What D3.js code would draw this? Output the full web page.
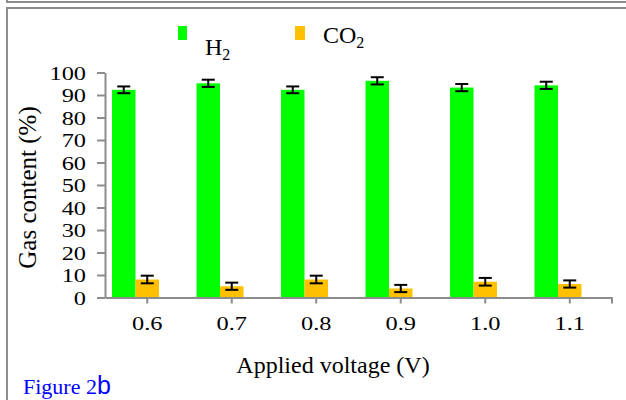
<!DOCTYPE html>
<html><head><meta charset="utf-8">
<script src="https://cdn.jsdelivr.net/npm/d3@7/dist/d3.min.js"></script>
<style>
html,body{margin:0;padding:0;background:#fff;}
svg{display:block;}
text{font-family:"Liberation Serif","Times New Roman",serif;fill:#000;}
</style></head>
<body><svg id="c" width="626" height="400"></svg>
<script>
const categories = ["0.6","0.7","0.8","0.9","1.0","1.1"];
const seriesNames = ["H2","CO2"];
const h2Values = [92.3, 95.2, 92.3, 96.3, 93.3, 94.3];
const co2Values = [8, 5, 8, 4, 7, 6];
const h2Errors = [1.5, 1.6, 1.5, 1.6, 1.6, 1.6];
const co2Errors = [1.7, 1.6, 1.7, 1.6, 1.7, 1.6];
const yTicks = [0,10,20,30,40,50,60,70,80,90,100];
const colors = {H2:"#00ff00", CO2:"#ffc000"};

(function(){
const svg = d3.select("#c");
const axisColor = "#8c8c8c";
const tickFont = 19.5, tickStretch = 1.25;

// frame
svg.append("line").attr("x1",7).attr("x2",626).attr("y1",2).attr("y2",2).attr("stroke",axisColor).attr("stroke-width",2);
svg.append("line").attr("x1",7).attr("x2",7).attr("y1",0).attr("y2",3).attr("stroke",axisColor).attr("stroke-width",2);
svg.append("path").attr("d","M7,400V8H626").attr("fill","none").attr("stroke",axisColor).attr("stroke-width",2);

const pL=105, pR=612, pT=72.5, pB=297.5;
const y = d3.scaleLinear().domain([0,100]).range([pB, pT]);
const x0 = d3.scaleBand().domain(categories).range([pL,pR]).padding(0);
const bw = x0.bandwidth();
// bar pair sits left of the tick: the CO2 bar is centred on the category tick
const x1 = d3.scaleBand().domain(seriesNames).range([bw/2-35.25, bw/2+11.75]).padding(0);

const data = categories.map((c,i)=>({cat:c, vals:[
  {s:"H2", v:h2Values[i], e:h2Errors[i]},
  {s:"CO2", v:co2Values[i], e:co2Errors[i]}]}));

const g = svg.append("g").selectAll("g").data(data).join("g")
  .attr("transform",d=>`translate(${x0(d.cat)},0)`);
g.selectAll("rect").data(d=>d.vals).join("rect")
  .attr("x",d=>x1(d.s)).attr("width",x1.bandwidth())
  .attr("y",d=>y(d.v)).attr("height",d=>y(0)-y(d.v))
  .attr("fill",d=>colors[d.s]);
const eb = g.selectAll("g.eb").data(d=>d.vals).join("g").attr("class","eb")
  .attr("transform",d=>`translate(${x1(d.s)+x1.bandwidth()/2},0)`);
eb.append("line").attr("y1",d=>y(d.v+d.e)).attr("y2",d=>y(d.v-d.e)).attr("stroke","#000").attr("stroke-width",2);
eb.append("line").attr("x1",-6.5).attr("x2",6.5).attr("y1",d=>y(d.v+d.e)).attr("y2",d=>y(d.v+d.e)).attr("stroke","#000").attr("stroke-width",2);
eb.append("line").attr("x1",-6.5).attr("x2",6.5).attr("y1",d=>y(d.v-d.e)).attr("y2",d=>y(d.v-d.e)).attr("stroke","#000").attr("stroke-width",2);

// y axis
const ya = svg.append("g").attr("transform",`translate(${pL},0)`)
  .call(d3.axisLeft(y).tickValues(yTicks).tickSize(8).tickPadding(10).tickSizeOuter(0));
ya.select(".domain").attr("stroke",axisColor).attr("stroke-width",2);
ya.selectAll(".tick line").attr("stroke",axisColor).attr("stroke-width",2);
ya.selectAll(".tick text").attr("font-size",tickFont).attr("font-family","Liberation Serif").attr("fill","#000")
  .attr("x",0).attr("dy","0.35em").attr("transform",`translate(-19,0) scale(${tickStretch},1)`);

// x axis
const xa = svg.append("g").attr("transform",`translate(0,${pB})`)
  .call(d3.axisBottom(x0).tickSize(6).tickPadding(14).tickSizeOuter(0));
xa.select(".domain").attr("stroke",axisColor).attr("stroke-width",2);
xa.selectAll(".tick line").attr("stroke",axisColor).attr("stroke-width",2);
xa.selectAll(".tick text").attr("font-size",tickFont).attr("font-family","Liberation Serif").attr("fill","#000")
  .attr("y",0).attr("dy","0.71em").attr("transform",`translate(0,19) scale(${tickStretch},1)`);
xa.append("line").attr("x1",pR).attr("x2",pR).attr("y1",0).attr("y2",6).attr("stroke",axisColor).attr("stroke-width",2);

// titles
svg.append("text").attr("x",333).attr("y",373).attr("text-anchor","middle").attr("font-size",24).text("Applied voltage (V)");
svg.append("text").attr("transform","translate(36,187.5) rotate(-90)").attr("text-anchor","middle").attr("font-size",25).text("Gas content (%)");

// legend
svg.append("rect").attr("x",178).attr("y",26).attr("width",9).attr("height",14).attr("fill",colors.H2);
svg.append("rect").attr("x",295).attr("y",26).attr("width",10).attr("height",14).attr("fill",colors.CO2);
const t1 = svg.append("text").attr("x",205).attr("y",55).attr("font-size",24);
t1.append("tspan").text("H");
t1.append("tspan").attr("dy",5).attr("font-size",16).text("2");
const t2 = svg.append("text").attr("x",323).attr("y",43).attr("font-size",24);
t2.append("tspan").text("CO");
t2.append("tspan").attr("dy",5).attr("font-size",16).text("2");

// figure label
const f = svg.append("text").attr("x",23).attr("y",394).attr("font-size",22).attr("fill","#0000ff");
f.append("tspan").attr("fill","#0000ff").text("Figure 2");
f.append("tspan").attr("fill","#0000ff").attr("font-family","Liberation Sans").attr("font-size",25).text("b");
})();
</script></body></html>
